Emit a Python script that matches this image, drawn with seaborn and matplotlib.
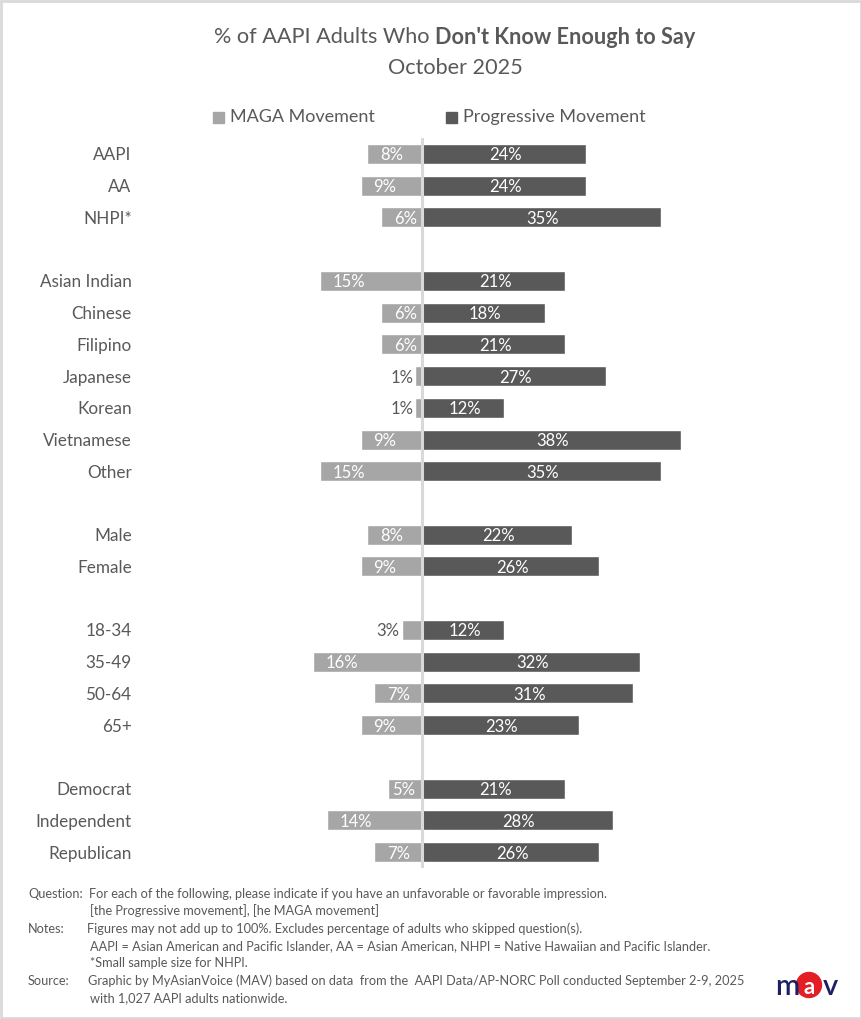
import matplotlib
matplotlib.use("Agg")
import matplotlib.pyplot as plt
import seaborn as sns
import pandas as pd
from matplotlib.patches import Rectangle, Ellipse

# ---- data ----
groups = ['AAPI', 'AA', 'NHPI*', None,
          'Asian Indian', 'Chinese', 'Filipino', 'Japanese', 'Korean', 'Vietnamese', 'Other', None,
          'Male', 'Female', None,
          '18-34', '35-49', '50-64', '65+', None,
          'Democrat', 'Independent', 'Republican']
maga = [8, 9, 6, None,
        15, 6, 6, 1, 1, 9, 15, None,
        8, 9, None,
        3, 16, 7, 9, None,
        5, 14, 7]
progressive = [24, 24, 35, None,
               21, 18, 21, 27, 12, 38, 35, None,
               22, 26, None,
               12, 32, 31, 23, None,
               21, 28, 26]

MAGA_C = '#A6A6A6'
PROG_C = '#595959'
TXT_C = '#595959'

rows = [(i, g, m, p) for i, (g, m, p) in enumerate(zip(groups, maga, progressive)) if g is not None]
df = pd.DataFrame(rows, columns=['pos', 'group', 'maga', 'progressive'])
df['maga_neg'] = -df['maga']

sns.set_theme(style='white')
plt.rcParams['font.family'] = ['Lato', 'DejaVu Sans']

W, H = 862, 1019
fig = plt.figure(figsize=(W / 100, H / 100), dpi=100)
ax = fig.add_axes([140 / W, 1 - 868 / H, 620 / W, 730 / H])

sns.barplot(data=df, x='maga_neg', y='pos', orient='y', native_scale=True,
            color=MAGA_C, width=0.63, errorbar=None, ax=ax, saturation=1)
sns.barplot(data=df, x='progressive', y='pos', orient='y', native_scale=True,
            color=PROG_C, width=0.63, errorbar=None, ax=ax, saturation=1)

px = 6.82  # pixels per percentage point
ax.set_xlim(-282 / px, 338 / px)
ax.set_ylim(22.5, -0.5)
ax.axvline(0, color='#D9D9D9', lw=2.2, zorder=5)

for _, r in df.iterrows():
    ax.text(r['progressive'] / 2 + 1.5 / px, r['pos'], f"{r['progressive']}%", color='white',
            ha='center', va='center_baseline', fontsize=12, zorder=6)
    m = r['maga']
    if m >= 6:
        ax.text(-m + 13 / px, r['pos'], f"{m}%", color='white', ha='left',
                va='center_baseline', fontsize=12, zorder=6)
    elif m >= 5:
        ax.text(-7 / px, r['pos'], f"{m}%", color='white', ha='right',
                va='center_baseline', fontsize=12, zorder=6)
    else:
        ax.text(-m - 2 / px, r['pos'], f"{m}%", color=TXT_C, ha='right',
                va='center_baseline', fontsize=12, zorder=6)

ax.set_yticks(df['pos'])
ax.set_yticklabels(df['group'], fontsize=12.3, color=TXT_C)
ax.tick_params(axis='y', length=0, pad=6)
ax.set_xticks([])
ax.set_xlabel('')
ax.set_ylabel('')
sns.despine(ax=ax, left=True, bottom=True)

# ---- title ----
renderer = fig.canvas.get_renderer()
t1 = fig.text(0, 1 - 37 / H, '% of AAPI Adults Who ', fontsize=15.6, color=TXT_C, va='center')
t2 = fig.text(0, 1 - 37 / H, "Don't Know Enough to Say", fontsize=15.6, color=TXT_C,
              va='center', fontweight='bold')
w1 = t1.get_window_extent(renderer).width
w2 = t2.get_window_extent(renderer).width
x0 = 455 - (w1 + w2) / 2
t1.set_x(x0 / W)
t2.set_x((x0 + w1) / W)
fig.text(455 / W, 1 - 68 / H, 'October 2025', fontsize=15.6, color=TXT_C, ha='center', va='center')

# ---- legend ----
for sx, col, lab in [(213, MAGA_C, 'MAGA Movement'), (446, PROG_C, 'Progressive Movement')]:
    fig.patches.append(Rectangle((sx / W, 1 - 123 / H), 11 / W, 11 / H, color=col,
                                 transform=fig.transFigure))
    fig.text((sx + 17) / W, 1 - 117 / H, lab, fontsize=13, color=TXT_C, va='center')

# ---- footnotes ----
foot = [
    (894, 28, 'Question:'), (894, 89, 'For each of the following, please indicate if you have an unfavorable or favorable impression.'),
    (911, 90, '[the Progressive movement], [he MAGA movement]'),
    (929, 28, 'Notes:'), (929, 87, 'Figures may not add up to 100%. Excludes percentage of adults who skipped question(s).'),
    (946, 90, 'AAPI = Asian American and Pacific Islander, AA = Asian American, NHPI = Native Hawaiian and Pacific Islander.'),
    (963, 90, '*Small sample size for NHPI.'),
    (981, 28, 'Source:'), (981, 88, 'Graphic by MyAsianVoice (MAV) based on data  from the  AAPI Data/AP-NORC Poll conducted September 2-9, 2025'),
    (998, 90, 'with 1,027 AAPI adults nationwide.'),
]
for y, x, s in foot:
    fig.text(x / W, 1 - y / H, s, fontsize=9.2, color=TXT_C, va='center')

# ---- logo ----
NAVY = '#1B2060'
fig.patches.append(Ellipse((809 / W, 1 - 985 / H), 25 / W, 25 / H, color='#E31E24',
                           transform=fig.transFigure))
fig.text(787 / W, 1 - 987 / H, 'm', fontsize=21, color=NAVY, ha='center', va='center',
         fontweight='semibold')
fig.text(809 / W, 1 - 987 / H, 'a', fontsize=16, color='white', ha='center', va='center',
         fontweight='bold')
fig.text(830 / W, 1 - 987 / H, 'v', fontsize=21, color=NAVY, ha='center', va='center',
         fontweight='semibold')

# border
fig.patches.append(Rectangle((0.001, 0.001), 0.998, 0.998, fill=False, edgecolor='#D9D9D9',
                             lw=2, transform=fig.transFigure))

fig.savefig('out.png', dpi=100)
